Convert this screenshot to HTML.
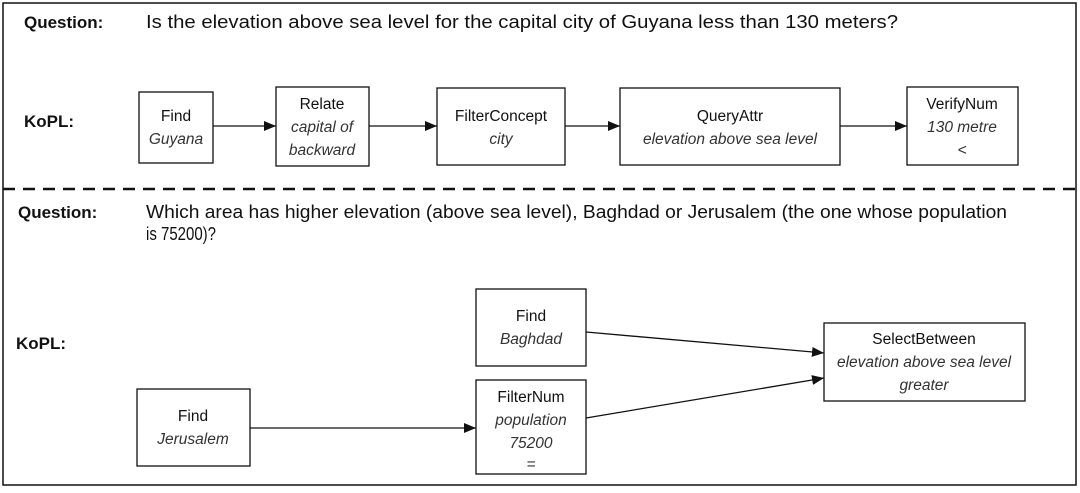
<!DOCTYPE html>
<html><head><style>
body{margin:0;width:1080px;height:488px;background:#fff;font-family:"Liberation Sans",sans-serif;}
svg text{font-family:"Liberation Sans",sans-serif;fill:#111;}
.b{font-weight:bold;font-size:17px}
.q{font-size:18px}
.n{font-size:15.5px}
.i{font-size:15.5px;font-style:italic;fill:#333}
rect{fill:#fff;stroke:#111;stroke-width:1.3}
line{stroke:#111;stroke-width:1.3}
</style></head><body>
<svg width="1080" height="488" xmlns="http://www.w3.org/2000/svg">
<defs><marker id="a" markerWidth="12" markerHeight="10" refX="12" refY="5" orient="auto" markerUnits="userSpaceOnUse"><path d="M0,0 L12,5 L0,10z" fill="#111"/></marker></defs>
<rect x="3" y="3" width="1073" height="482" style="stroke-width:1.5"/>
<line x1="3" y1="189" x2="1076" y2="189" style="stroke-width:2.5;stroke-dasharray:12,8"/>
<text x="24" y="28" class="b">Question:</text>
<text x="146" y="28" class="q" textLength="752" lengthAdjust="spacingAndGlyphs">Is the elevation above sea level for the capital city of Guyana less than 130 meters?</text>
<text x="24" y="127" class="b">KoPL:</text>
<rect x="139" y="92" width="74" height="71"/>
<text x="176" y="121" class="n" text-anchor="middle">Find</text>
<text x="176" y="144" class="i" text-anchor="middle">Guyana</text>
<rect x="276" y="87" width="93" height="79"/>
<text x="322" y="109" class="n" text-anchor="middle">Relate</text>
<text x="322" y="132" class="i" text-anchor="middle">capital of</text>
<text x="322" y="155" class="i" text-anchor="middle">backward</text>
<rect x="437" y="88" width="128" height="77"/>
<text x="501" y="121" class="n" text-anchor="middle">FilterConcept</text>
<text x="501" y="144" class="i" text-anchor="middle">city</text>
<rect x="620" y="88" width="220" height="77"/>
<text x="730" y="121" class="n" text-anchor="middle">QueryAttr</text>
<text x="730" y="144" class="i" text-anchor="middle">elevation above sea level</text>
<rect x="907" y="87" width="111" height="78"/>
<text x="962" y="109" class="n" text-anchor="middle">VerifyNum</text>
<text x="962" y="132" class="i" text-anchor="middle">130 metre</text>
<text x="962" y="155" class="i" text-anchor="middle">&lt;</text>
<line x1="213" y1="126" x2="276" y2="126" marker-end="url(#a)"/>
<line x1="369" y1="126" x2="437" y2="126" marker-end="url(#a)"/>
<line x1="565" y1="126" x2="620" y2="126" marker-end="url(#a)"/>
<line x1="840" y1="126" x2="907" y2="126" marker-end="url(#a)"/>
<text x="18" y="218" class="b">Question:</text>
<text x="146" y="218" class="q" textLength="861" lengthAdjust="spacingAndGlyphs">Which area has higher elevation (above sea level), Baghdad or Jerusalem (the one whose population</text>
<text x="146" y="240" class="q" textLength="70" lengthAdjust="spacingAndGlyphs">is 75200)?</text>
<text x="16" y="349" class="b">KoPL:</text>
<rect x="476" y="289" width="110" height="77"/>
<text x="531" y="321" class="n" text-anchor="middle">Find</text>
<text x="531" y="344" class="i" text-anchor="middle">Baghdad</text>
<rect x="476" y="380" width="110" height="94"/>
<text x="531" y="402" class="n" text-anchor="middle">FilterNum</text>
<text x="531" y="425" class="i" text-anchor="middle">population</text>
<text x="531" y="448" class="i" text-anchor="middle">75200</text>
<text x="531" y="469" class="i" text-anchor="middle">=</text>
<rect x="137" y="389" width="113" height="77"/>
<text x="193" y="421" class="n" text-anchor="middle">Find</text>
<text x="193" y="444" class="i" text-anchor="middle">Jerusalem</text>
<rect x="824" y="323" width="201" height="78"/>
<text x="924" y="344" class="n" text-anchor="middle">SelectBetween</text>
<text x="924" y="367" class="i" text-anchor="middle">elevation above sea level</text>
<text x="924" y="390" class="i" text-anchor="middle">greater</text>
<line x1="250" y1="428" x2="476" y2="428" marker-end="url(#a)"/>
<line x1="586" y1="332" x2="824" y2="353" marker-end="url(#a)"/>
<line x1="586" y1="418" x2="824" y2="378" marker-end="url(#a)"/>
</svg>
</body></html>
